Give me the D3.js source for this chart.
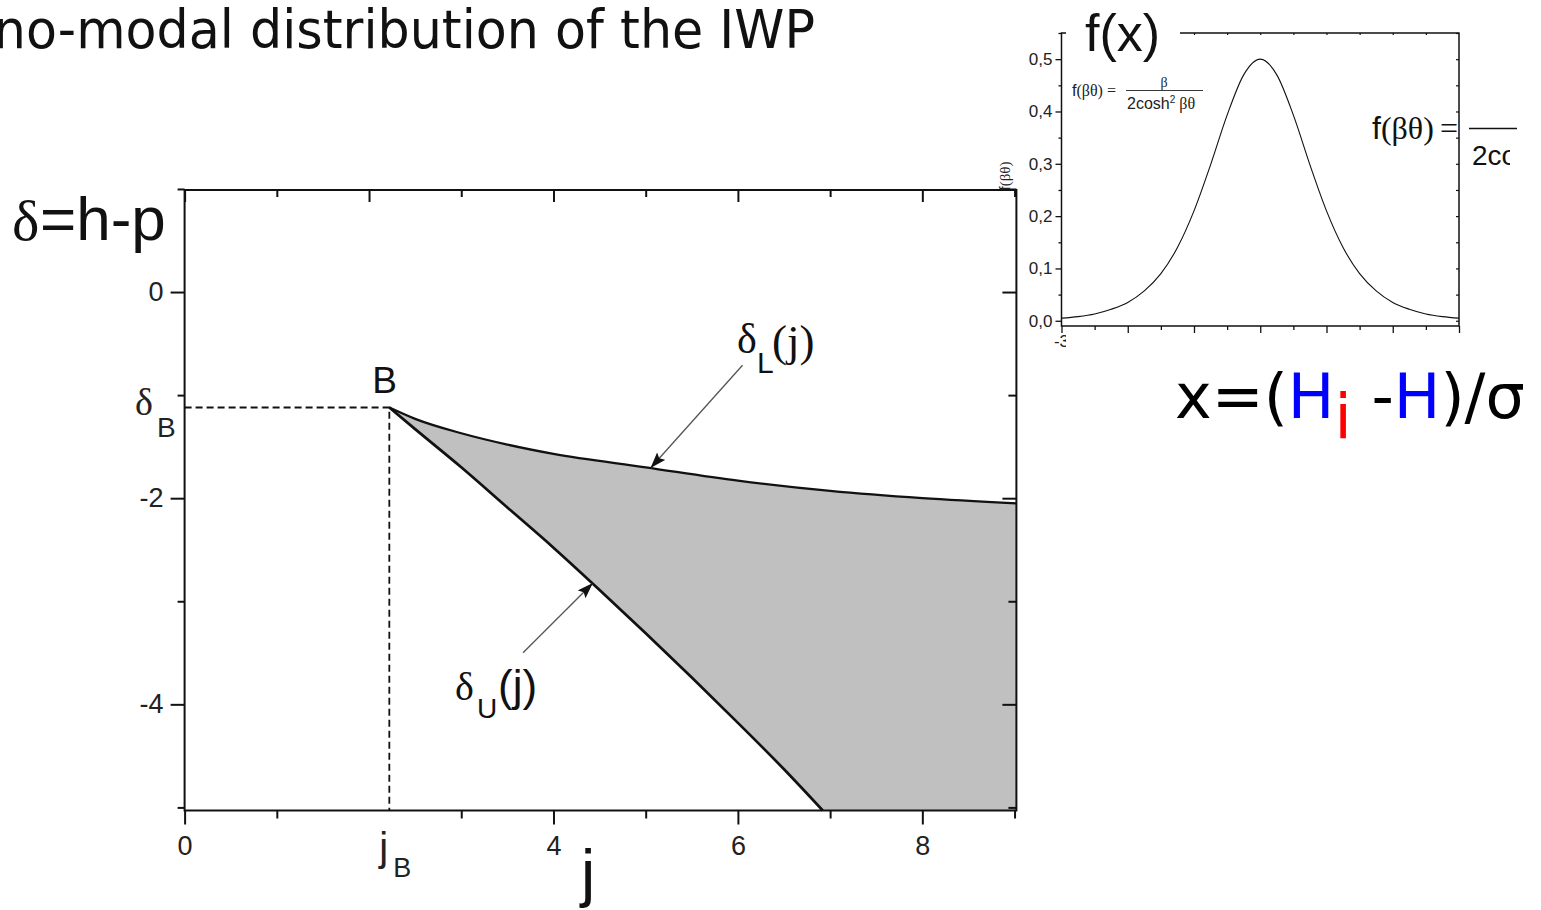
<!DOCTYPE html>
<html>
<head>
<meta charset="utf-8">
<script src="https://cdn.jsdelivr.net/npm/d3@7"></script>
<style>
  html, body { margin: 0; padding: 0; background: #fff; }
  svg { display: block; }
</style>
</head>
<body>
<script>
// ---- Phase diagram: boundaries of the delta = h - p region vs j ----
const jLower = [2.22, 2.5, 3, 3.5, 4, 5, 6, 7, 8, 9.02];
const deltaLower = [-1.12, -1.23, -1.37, -1.48, -1.57, -1.70, -1.83, -1.93, -2.00, -2.05];
const jUpper = [2.22, 2.5, 3, 3.5, 4, 4.5, 5, 5.5, 6, 6.5, 6.92];
const deltaUpper = [-1.12, -1.33, -1.70, -2.09, -2.48, -2.89, -3.31, -3.74, -4.18, -4.63, -5.03];
const pointB = { j: 2.22, delta: -1.12 };

const mainXMajor = [0, 4, 6, 8];
const mainXMinor = [1, 3, 5, 7, 9];
const mainXTop = [0, 2, 4, 6, 8];
const mainYMajor = [0, -2, -4];
const mainYMinor = [1, -1, -3, -5];

// ---- Inset: f(beta*theta) = beta / (2 cosh^2 beta*theta) ----
const insetX = [-3, -2.75, -2.5, -2.25, -2, -1.75, -1.5, -1.25, -1, -0.75, -0.5, -0.25, 0,
                0.25, 0.5, 0.75, 1, 1.25, 1.5, 1.75, 2, 2.25, 2.5, 2.75, 3];
const insetF = [0.005, 0.008, 0.013, 0.022, 0.035, 0.057, 0.090, 0.140, 0.210, 0.298, 0.393, 0.470, 0.500,
                0.470, 0.393, 0.298, 0.210, 0.140, 0.090, 0.057, 0.035, 0.022, 0.013, 0.008, 0.005];
const insetYMajor = [0, 0.1, 0.2, 0.3, 0.4, 0.5];
const insetYMinor = [0.05, 0.15, 0.25, 0.35, 0.45, 0.55];
const insetXMajor = [-3, -2, -1, 0, 1, 2, 3];
const insetXMinor = [-2.5, -1.5, -0.5, 0.5, 1.5, 2.5];
const insetXTop = [-1, -0.5, 0, 0.5, 1, 1.5, 2, 2.5];

const SANS = "'Liberation Sans', Arial, sans-serif";
const SERIF = "'Liberation Serif', 'Times New Roman', serif";
const ROUND = "'DejaVu Sans', sans-serif";

const svg = d3.select("body").append("svg")
  .attr("width", 1541).attr("height", 910);

const defs = svg.append("defs");
defs.append("marker")
  .attr("id", "arrowHead")
  .attr("viewBox", "0 0 16 11")
  .attr("refX", 15).attr("refY", 5.5)
  .attr("markerWidth", 16).attr("markerHeight", 11)
  .attr("markerUnits", "userSpaceOnUse")
  .attr("orient", "auto")
  .append("path").attr("d", "M0,0 L16,5.5 L0,11 L3,5.5 Z").attr("fill", "#111");

// ---- Title ----
svg.append("text")
  .attr("x", -81).attr("y", 48)
  .attr("textLength", 896).attr("lengthAdjust", "spacingAndGlyphs")
  .style("font-family", ROUND).style("font-size", "54px").attr("fill", "#111")
  .text("Mono-modal distribution of the IWP");

// ---- Main chart ----
const x = d3.scaleLinear().domain([0, 9.02]).range([184.6, 1016.4]);
const y = d3.scaleLinear().domain([-5.03, 0.99]).range([810.5, 190]);

const main = svg.append("g");

// shaded region between the two boundaries
const curveGen = d3.line().x(d => x(d[0])).y(d => y(d[1])).curve(d3.curveMonotoneX);
const lowerPts = jLower.map((j, i) => [j, deltaLower[i]]);
const upperPts = jUpper.map((j, i) => [j, deltaUpper[i]]);
const topPath = curveGen(lowerPts);
const backPath = curveGen(upperPts.slice().reverse()).replace(/^M/, "L");
const cornerPath = "L" + x(x.domain()[1]) + "," + y(y.domain()[0]);
main.append("path")
  .attr("d", topPath + cornerPath + backPath + "Z")
  .attr("fill", "#c0c0c0").attr("stroke", "none");

// dashed guides to point B
main.append("path")
  .attr("d", `M${x(0)},${y(pointB.delta)} H${x(pointB.j)} V${y(y.domain()[0])}`)
  .attr("fill", "none").attr("stroke", "#111").attr("stroke-width", 1.8)
  .attr("stroke-dasharray", "7,4");

// boundary curves
main.append("path").attr("d", topPath)
  .attr("fill", "none").attr("stroke", "#111").attr("stroke-width", 2.3);
main.append("path").attr("d", curveGen(upperPts))
  .attr("fill", "none").attr("stroke", "#111").attr("stroke-width", 2.7);

// axes
function styleAxis(g, fontSize, family, width) {
  g.select(".domain").remove();
  g.selectAll(".tick line").attr("stroke", "#111").attr("stroke-width", width);
  g.selectAll(".tick text").attr("fill", "#222")
    .style("font-family", family).style("font-size", fontSize + "px");
}
const plainFmt = d => String(d);
main.append("g").attr("transform", `translate(0,${y.range()[0]})`)
  .call(d3.axisBottom(x).tickValues(mainXMajor).tickSize(14).tickPadding(11).tickFormat(plainFmt))
  .call(g => styleAxis(g, 27, SANS, 2));
main.append("g").attr("transform", `translate(0,${y.range()[0]})`)
  .call(d3.axisBottom(x).tickValues(mainXMinor).tickSize(8).tickFormat(""))
  .call(g => styleAxis(g, 27, SANS, 2));
main.append("g").attr("transform", `translate(0,${y.range()[1]})`)
  .call(d3.axisTop(x).tickValues(mainXTop).tickSize(-12).tickFormat(""))
  .call(g => styleAxis(g, 27, SANS, 2));
main.append("g").attr("transform", `translate(0,${y.range()[1]})`)
  .call(d3.axisTop(x).tickValues(mainXMinor).tickSize(-7).tickFormat(""))
  .call(g => styleAxis(g, 27, SANS, 2));
main.append("g").attr("transform", `translate(${x.range()[0]},0)`)
  .call(d3.axisLeft(y).tickValues(mainYMajor).tickSize(14).tickPadding(7).tickFormat(plainFmt))
  .call(g => styleAxis(g, 27, SANS, 2));
main.append("g").attr("transform", `translate(${x.range()[0]},0)`)
  .call(d3.axisLeft(y).tickValues(mainYMinor).tickSize(7).tickFormat(""))
  .call(g => styleAxis(g, 27, SANS, 2));
main.append("g").attr("transform", `translate(${x.range()[1]},0)`)
  .call(d3.axisRight(y).tickValues(mainYMajor).tickSize(-14).tickFormat(""))
  .call(g => styleAxis(g, 27, SANS, 2));
main.append("g").attr("transform", `translate(${x.range()[1]},0)`)
  .call(d3.axisRight(y).tickValues(mainYMinor).tickSize(-8).tickFormat(""))
  .call(g => styleAxis(g, 27, SANS, 2));

// frame
main.append("rect")
  .attr("x", x.range()[0]).attr("y", y.range()[1])
  .attr("width", x.range()[1] - x.range()[0]).attr("height", y.range()[0] - y.range()[1])
  .attr("fill", "none").attr("stroke", "#111").attr("stroke-width", 2);

// j_B tick label
const jB = main.append("text").attr("x", x(pointB.j) - 10).attr("y", 861)
  .attr("fill", "#222").style("font-family", SANS);
jB.append("tspan").style("font-size", "40px").text("j");
jB.append("tspan").attr("x", x(pointB.j) + 4).attr("y", 877).style("font-size", "27px").text("B");

// delta_B tick label
const dB = main.append("text").attr("x", 135).attr("y", 415)
  .attr("fill", "#222");
dB.append("tspan").style("font-family", SERIF).style("font-size", "38px").text("δ");
dB.append("tspan").attr("x", 157).attr("y", 437).style("font-family", SANS).style("font-size", "28px").text("B");

// point B
main.append("text").attr("x", x(pointB.j) - 17).attr("y", y(pointB.delta) - 14)
  .attr("fill", "#111").style("font-family", SANS).style("font-size", "37px").text("B");

// axis titles
const yTitle = main.append("text").attr("x", 12).attr("y", 240).attr("fill", "#111");
yTitle.append("tspan").style("font-family", SERIF).style("font-size", "58px").text("δ");
yTitle.append("tspan").attr("x", 40).style("font-family", SANS).style("font-size", "62px").text("=h-p");
main.append("text").attr("x", 581).attr("y", 895).attr("fill", "#111")
  .style("font-family", SANS).style("font-size", "64px").text("j");

// curve annotations
const arrowL = { from: [6.05, -0.71], to: [5.06, -1.70] };
const arrowU = { from: [3.67, -3.50], to: [4.42, -2.83] };
[arrowL, arrowU].forEach(a => {
  main.append("line")
    .attr("x1", x(a.from[0])).attr("y1", y(a.from[1]))
    .attr("x2", x(a.to[0])).attr("y2", y(a.to[1]))
    .attr("stroke", "#555").attr("stroke-width", 1.3)
    .attr("marker-end", "url(#arrowHead)");
});
const labL = main.append("text").attr("x", 737).attr("y", 353).attr("fill", "#111");
labL.append("tspan").style("font-family", SERIF).style("font-size", "42px").text("δ");
labL.append("tspan").attr("x", 757).attr("y", 373).style("font-family", SANS).style("font-size", "30px").text("L");
labL.append("tspan").attr("x", 772).attr("y", 356).style("font-family", SERIF).style("font-size", "45px").text("(j)");

const labU = main.append("text").attr("x", 455).attr("y", 700).attr("fill", "#111");
labU.append("tspan").style("font-family", SERIF).style("font-size", "40px").text("δ");
labU.append("tspan").attr("x", 477).attr("y", 718).style("font-family", SANS).style("font-size", "28px").text("U");
labU.append("tspan").attr("x", 498).attr("y", 701).style("font-family", SANS).style("font-size", "44px").text("(j)");

// ---- Inset chart ----
const ix = d3.scaleLinear().domain([-3, 3]).range([1061.5, 1459]);
const iy = d3.scaleLinear().domain([-0.01, 0.55]).range([326, 33]);
const inset = svg.append("g");

inset.append("path")
  .datum(insetX.map((v, i) => [v, insetF[i]]))
  .attr("d", d3.line().x(d => ix(d[0])).y(d => iy(d[1])).curve(d3.curveMonotoneX))
  .attr("fill", "none").attr("stroke", "#111").attr("stroke-width", 1.1);

const commaFmt = v => d3.format(".1f")(v).replace(".", ",");
inset.append("g").attr("transform", `translate(${ix.range()[0]},0)`)
  .call(d3.axisLeft(iy).tickValues(insetYMajor).tickSize(6).tickPadding(3).tickFormat(commaFmt))
  .call(g => styleAxis(g, 17, SANS, 1.3));
inset.append("g").attr("transform", `translate(${ix.range()[0]},0)`)
  .call(d3.axisLeft(iy).tickValues(insetYMinor).tickSize(3).tickFormat(""))
  .call(g => styleAxis(g, 17, SANS, 1.3));
inset.append("g").attr("transform", `translate(${ix.range()[1]},0)`)
  .call(d3.axisRight(iy).tickValues(insetYMajor.concat(insetYMinor)).tickSize(-3).tickFormat(""))
  .call(g => styleAxis(g, 17, SANS, 1.2));
inset.append("g").attr("transform", `translate(0,${iy.range()[0]})`)
  .call(d3.axisBottom(ix).tickValues(insetXMajor).tickSize(7).tickFormat(""))
  .call(g => styleAxis(g, 17, SANS, 1.3));
inset.append("g").attr("transform", `translate(0,${iy.range()[0]})`)
  .call(d3.axisBottom(ix).tickValues(insetXMinor).tickSize(4).tickFormat(""))
  .call(g => styleAxis(g, 17, SANS, 1.3));
inset.append("g").attr("transform", `translate(0,${iy.range()[1]})`)
  .call(d3.axisTop(ix).tickValues(insetXTop).tickSize(-2).tickFormat(""))
  .call(g => styleAxis(g, 17, SANS, 1.2));

inset.append("rect")
  .attr("x", ix.range()[0]).attr("y", iy.range()[1])
  .attr("width", ix.range()[1] - ix.range()[0]).attr("height", iy.range()[0] - iy.range()[1])
  .attr("fill", "none").attr("stroke", "#111").attr("stroke-width", 1.5);

// first x tick label, partly masked
defs.append("clipPath").attr("id", "insetXLab")
  .append("rect").attr("x", 1040).attr("y", 328).attr("width", 26).attr("height", 30);
inset.append("text").attr("clip-path", "url(#insetXLab)")
  .attr("x", ix(-3)).attr("y", 347).attr("text-anchor", "middle")
  .attr("fill", "#222").style("font-family", SANS).style("font-size", "17px").text("-3");

// y axis title of inset
const iyt = inset.append("text")
  .attr("transform", "translate(1010,176) rotate(-90)")
  .attr("text-anchor", "middle").attr("fill", "#222").style("font-size", "15px");
iyt.append("tspan").style("font-family", SANS).text("f");
iyt.append("tspan").style("font-family", SERIF).text("(βθ)");

// inset formula
const fm = inset.append("text").attr("x", 1072).attr("y", 96).attr("fill", "#222").style("font-size", "16px");
fm.append("tspan").style("font-family", SANS).text("f");
fm.append("tspan").style("font-family", SERIF).text("(βθ) =");
inset.append("text").attr("x", 1164).attr("y", 87).attr("text-anchor", "middle")
  .attr("fill", "#222").style("font-family", SERIF).style("font-size", "14px").text("β");
inset.append("line").attr("x1", 1126).attr("x2", 1203).attr("y1", 90.5).attr("y2", 90.5)
  .attr("stroke", "#222").attr("stroke-width", 0.9);
const den = inset.append("text").attr("x", 1127).attr("y", 109).attr("fill", "#222").style("font-size", "16px");
den.append("tspan").style("font-family", SANS).text("2cosh");
den.append("tspan").attr("dy", -6).style("font-family", SANS).style("font-size", "10px").text("2");
den.append("tspan").attr("dy", 6).style("font-family", SERIF).text(" βθ");

// f(x) label with its white backing
inset.append("rect").attr("x", 1066).attr("y", 18).attr("width", 114).attr("height", 28).attr("fill", "#fff");
inset.append("text").attr("x", 1085).attr("y", 51).attr("fill", "#111")
  .style("font-family", SANS).style("font-size", "52px").text("f(x)");

// large formula, cut at the right edge
defs.append("clipPath").attr("id", "bigFormula")
  .append("rect").attr("x", 1360).attr("y", 100).attr("width", 157).attr("height", 50);
defs.append("clipPath").attr("id", "bigDenominator")
  .append("rect").attr("x", 1460).attr("y", 136).attr("width", 50).attr("height", 40);
const big = svg.append("g").attr("clip-path", "url(#bigFormula)");
const bf = big.append("text").attr("x", 1372).attr("y", 139).attr("fill", "#111").style("font-size", "32px");
bf.append("tspan").style("font-family", SANS).text("f");
bf.append("tspan").style("font-family", SERIF).text("(βθ)");
bf.append("tspan").attr("x", 1440).style("font-family", SERIF).text("=");
big.append("line").attr("x1", 1469).attr("x2", 1541).attr("y1", 128.5).attr("y2", 128.5)
  .attr("stroke", "#111").attr("stroke-width", 1.6);
svg.append("text").attr("clip-path", "url(#bigDenominator)")
  .attr("x", 1472).attr("y", 165).attr("fill", "#111")
  .style("font-family", SANS).style("font-size", "28px").text("2cosh");

// x = (H_i - H)/sigma
const xd = svg.append("text").attr("x", 1175).attr("y", 418)
  .style("font-family", ROUND).style("font-size", "62px").attr("fill", "#000");
xd.append("tspan").text("x=(");
xd.append("tspan").attr("fill", "#0000ff").text("H");
xd.append("tspan").attr("fill", "#ff0000").attr("dy", 20).text("i");
xd.append("tspan").attr("dy", -20).text(" -");
xd.append("tspan").attr("fill", "#0000ff").text("H");
xd.append("tspan").text(")/σ");
</script>
</body>
</html>
